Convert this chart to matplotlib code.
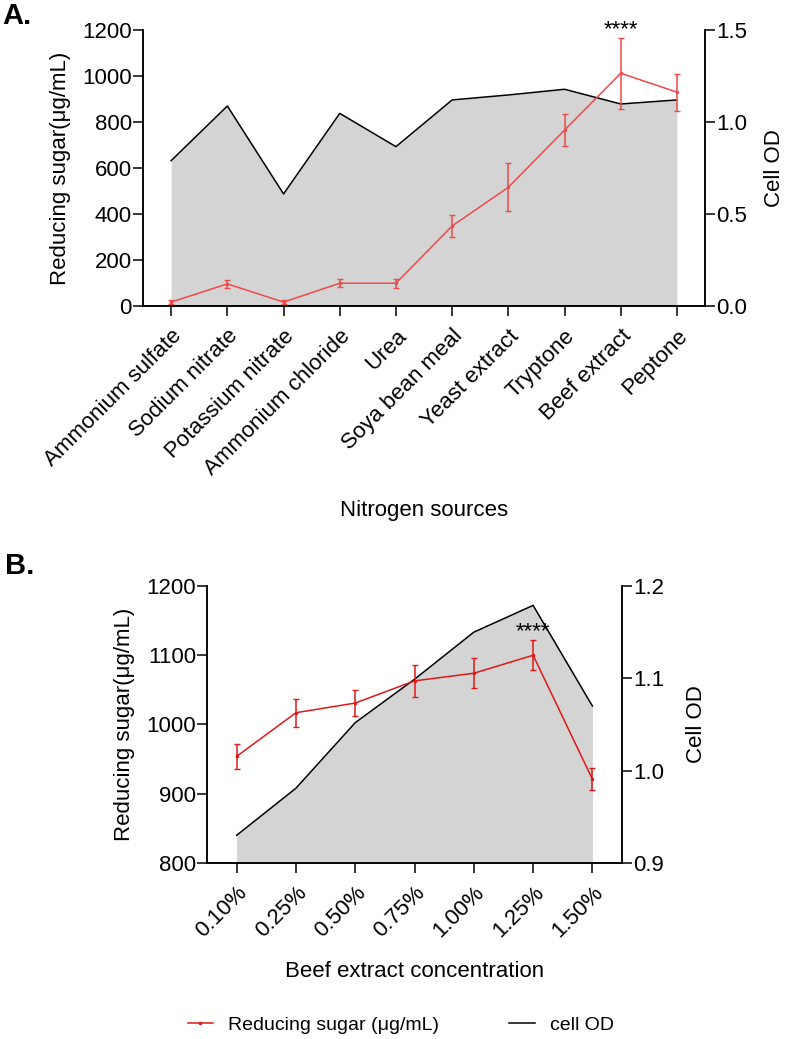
import matplotlib
matplotlib.use('Agg')
import matplotlib.pyplot as plt

plt.rcParams['font.family'] = ['Liberation Sans', 'DejaVu Sans']

# Panel A: nitrogen sources
nitrogen = ['Ammonium sulfate', 'Sodium nitrate', 'Potassium nitrate', 'Ammonium chloride',
            'Urea', 'Soya bean meal', 'Yeast extract', 'Tryptone', 'Beef extract', 'Peptone']
sugar_a = [17, 96, 17, 99, 99, 348, 516, 765, 1012, 930]
sugar_a_err = [7, 16, 7, 17, 20, 48, 104, 69, 154, 80]
od_a = [0.79, 1.087, 0.609, 1.047, 0.866, 1.12, 1.147, 1.178, 1.098, 1.12]

# Panel B: beef extract concentration
conc = ['0.10%', '0.25%', '0.50%', '0.75%', '1.00%', '1.25%', '1.50%']
sugar_b = [954, 1017, 1031, 1063, 1074, 1100, 921]
sugar_b_err = [18, 20, 19, 23, 22, 22, 16]
od_b = [0.930, 0.981, 1.052, 1.099, 1.150, 1.179, 1.070]

red_a = '#ee4a4a'
red_b = '#e01818'
gray = '#d4d4d4'

fig = plt.figure(figsize=(7.86, 10.39), dpi=100)


def style(ax, ax2):
    for a in (ax, ax2):
        a.spines['top'].set_visible(False)
        for s in a.spines.values():
            s.set_linewidth(1.1)
        a.tick_params(width=1.1, length=7, labelsize=16, pad=1)
    ax.tick_params(axis='x', length=7, pad=7)
    ax.set_zorder(ax2.get_zorder() + 1)
    ax.patch.set_visible(False)


# ---- panel A ----
axA = fig.add_axes([0.182, 0.7055, 0.715, 0.2656])
axA2 = axA.twinx()
xa = list(range(len(nitrogen)))
axA2.fill_between(xa, od_a, 0, color=gray, lw=0)
axA2.plot(xa, od_a, color='black', lw=1.1)
axA.errorbar(xa, sugar_a, yerr=sugar_a_err, color=red_a, lw=1.1, capsize=2.5,
             elinewidth=1.1, marker='o', markersize=1.5)
axA.set_xlim(-0.5, 9.5)
axA.set_ylim(0, 1200)
axA2.set_ylim(0, 1.5)
axA.set_yticks([0, 200, 400, 600, 800, 1000, 1200])
axA2.set_yticks([0.0, 0.5, 1.0, 1.5])
axA2.set_yticklabels(['0.0', '0.5', '1.0', '1.5'])
axA.set_xticks(xa)
axA.set_xticklabels(nitrogen, rotation=45, ha='right', rotation_mode='anchor')
style(axA, axA2)
axA.set_ylabel('Reducing sugar(\u03bcg/mL)', fontsize=16, labelpad=8)
axA2.set_ylabel('Cell OD', fontsize=16, labelpad=12)
axA.set_xlabel('Nitrogen sources', fontsize=16, labelpad=15)
axA.annotate('****', (8, sugar_a[8] + sugar_a_err[8]), xytext=(0, 2), textcoords='offset points',
             ha='center', va='baseline', fontsize=16, annotation_clip=False)
fig.text(0.003, 0.985, 'A.', fontsize=21, fontweight='bold', va='center')

# ---- panel B ----
axB = fig.add_axes([0.2634, 0.1694, 0.528, 0.2666])
axB2 = axB.twinx()
xb = list(range(len(conc)))
axB2.fill_between(xb, od_b, 0.9, color=gray, lw=0)
axB2.plot(xb, od_b, color='black', lw=1.1)
axB.errorbar(xb, sugar_b, yerr=sugar_b_err, color=red_b, lw=1.1, capsize=2.5,
             elinewidth=1.1, marker='o', markersize=1.5)
axB.set_xlim(-0.5, 6.5)
axB.set_ylim(800, 1200)
axB2.set_ylim(0.9, 1.2)
axB.set_yticks([800, 900, 1000, 1100, 1200])
axB2.set_yticks([0.9, 1.0, 1.1, 1.2])
axB2.set_yticklabels(['0.9', '1.0', '1.1', '1.2'])
axB.set_xticks(xb)
axB.set_xticklabels(conc, rotation=45, ha='right', rotation_mode='anchor')
style(axB, axB2)
axB.set_ylabel('Reducing sugar(\u03bcg/mL)', fontsize=16, labelpad=8)
axB2.set_ylabel('Cell OD', fontsize=16, labelpad=16)
axB.set_xlabel('Beef extract concentration', fontsize=16, labelpad=14)
axB.annotate('****', (5, sugar_b[5] + sugar_b_err[5]), xytext=(0, 2), textcoords='offset points',
             ha='center', va='baseline', fontsize=16, annotation_clip=False)
fig.text(0.006, 0.455, 'B.', fontsize=21, fontweight='bold', va='center')

# ---- legend ----
h1, = plt.plot([], [], color=red_b, lw=1.1, marker='o', markersize=1.5)
h2, = plt.plot([], [], color='black', lw=1.1)
fig.legend([h1, h2], ['Reducing sugar (\u03bcg/mL)', 'cell OD'], loc='center',
           bbox_to_anchor=(0.51, 0.0135), ncol=2, frameon=False, fontsize=14,
           handlelength=1.3, handletextpad=0.8, columnspacing=3.6)

fig.savefig('out.png', dpi=100, facecolor='white')
